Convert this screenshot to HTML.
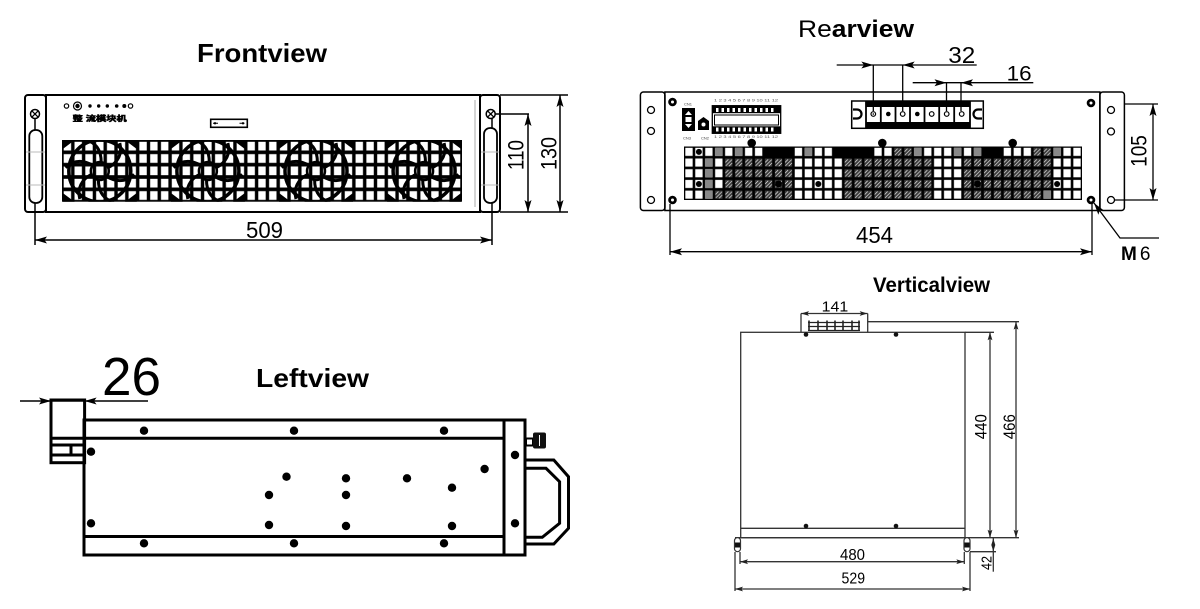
<!DOCTYPE html>
<html><head><meta charset="utf-8"><title>drawing</title>
<style>
html,body{margin:0;padding:0;background:#fff;width:1200px;height:609px;overflow:hidden}
svg{display:block}
</style></head><body>
<svg xmlns="http://www.w3.org/2000/svg" xmlns:xlink="http://www.w3.org/1999/xlink" width="1200" height="609" viewBox="0 0 1200 609" font-family="'Liberation Sans','Noto Sans CJK SC',sans-serif">
<defs>
 <marker id="a" viewBox="0 0 12 8" refX="12" refY="4" markerWidth="12" markerHeight="8" markerUnits="userSpaceOnUse" orient="auto-start-reverse"><path d="M0,0.5 L12,4 L0,7.5 L2.5,4 z" fill="#000"/></marker>
 <marker id="s" viewBox="0 0 8 6" refX="8" refY="3" markerWidth="8" markerHeight="6" markerUnits="userSpaceOnUse" orient="auto-start-reverse"><path d="M0,0.6 L8,3 L0,5.4 L1.6,3 z" fill="#222"/></marker>
 <pattern id="fg" x="62" y="140" width="10.81" height="12.34" patternUnits="userSpaceOnUse"><rect x="1.7" y="1.8" width="7.4" height="8.7" fill="#fff"/></pattern>
 <pattern id="rg" x="684" y="146.5" width="9.95" height="10.7" patternUnits="userSpaceOnUse"><rect x="1.3" y="1.3" width="7.35" height="8.1" fill="#fff"/></pattern>
 <pattern id="rgd" x="684" y="146.5" width="9.95" height="10.7" patternUnits="userSpaceOnUse"><rect width="9.95" height="10.7" fill="#000"/><rect x="1.3" y="1.3" width="7.35" height="8.1" fill="#3a3a3a"/><path d="M2,8.6 L8.2,2.4 M1.6,5.2 L4.6,2.2 M5.2,9 L8.4,5.8" stroke="#fff" stroke-width="0.6"/></pattern>
 <clipPath id="fc"><rect x="62" y="140" width="400" height="61.7"/></clipPath>
 <g id="fan">
  <circle r="31" fill="none" stroke="#000" stroke-width="3.5"/>
  <circle r="9" fill="none" stroke="#000" stroke-width="2.5"/>
  <g fill="none" stroke="#000" stroke-width="3">
   <path d="M8,-3 Q24,-12 20,-28"/>
   <path d="M8,-3 Q24,-12 20,-28" transform="rotate(60)"/>
   <path d="M8,-3 Q24,-12 20,-28" transform="rotate(120)"/>
   <path d="M8,-3 Q24,-12 20,-28" transform="rotate(180)"/>
   <path d="M8,-3 Q24,-12 20,-28" transform="rotate(240)"/>
   <path d="M8,-3 Q24,-12 20,-28" transform="rotate(300)"/>
  </g>
  <path d="M-37,-31 h12 l-12,9z M37,-31 h-12 l12,9z M-37,31 h12 l-12,-9z M37,31 h-12 l12,-9z" fill="#000"/>
 </g>
</defs>
<rect width="1200" height="609" fill="#fff"/>

<!-- ================= FRONT VIEW ================= -->
<text x="197" y="62" font-size="26" font-weight="bold" textLength="130" lengthAdjust="spacingAndGlyphs">Frontview</text>
<g fill="none" stroke="#000" stroke-width="2">
 <rect x="25" y="95" width="21" height="117" rx="3"/>
 <rect x="46" y="95" width="434" height="117"/>
 <rect x="480" y="95" width="20" height="117" rx="3"/>
</g>
<line x1="475" y1="100" x2="475" y2="207" stroke="#aaa" stroke-width="1"/>
<g stroke="#000" stroke-width="1.5" fill="none">
 <line x1="35" y1="118" x2="35" y2="245"/>
 <line x1="492" y1="118" x2="492" y2="245"/>
</g>
<g fill="#fff" stroke="#000" stroke-width="1.8">
 <rect x="29.3" y="130" width="13" height="73" rx="6"/>
 <rect x="484" y="128" width="13" height="75" rx="6"/>
</g>
<g stroke="#bbb" stroke-width="1">
 <line x1="26" y1="152" x2="45" y2="152"/><line x1="26" y1="185" x2="45" y2="185"/>
 <line x1="481" y1="152" x2="499" y2="152"/><line x1="481" y1="185" x2="499" y2="185"/>
</g>
<g fill="#fff" stroke="#000" stroke-width="1.5"><circle cx="35" cy="114" r="4.5"/><circle cx="490.7" cy="114" r="4.5"/></g>
<path d="M31.8,110.8 L38.2,117.2 M38.2,110.8 L31.8,117.2 M487.5,110.8 L493.9,117.2 M493.9,110.8 L487.5,117.2" stroke="#000" stroke-width="1.3"/>

<!-- LEDs -->
<g stroke="#000" stroke-width="1.2" fill="none">
 <circle cx="66.5" cy="106" r="2.2"/>
 <circle cx="77.5" cy="106" r="4"/>
 <circle cx="130.5" cy="106" r="2.2"/>
</g>
<g fill="#000">
 <circle cx="77.5" cy="106" r="2.2"/>
 <circle cx="90" cy="106" r="1.7"/>
 <circle cx="98.7" cy="106" r="1.7"/>
 <circle cx="107.3" cy="106" r="1.7"/>
 <circle cx="116.7" cy="106" r="1.8"/>
 <circle cx="124.3" cy="106" r="2"/>
</g>
<text x="72.7" y="121" font-size="7.5" font-weight="bold" textLength="54" lengthAdjust="spacingAndGlyphs" stroke="#000" stroke-width="0.5" font-family="'Liberation Sans','Noto Sans CJK SC',sans-serif">整 流模块机</text>
<rect x="210.7" y="119.3" width="36.6" height="8" fill="#fff" stroke="#000" stroke-width="1.6"/>
<path d="M213,123.3 h5 M244.5,123.3 h-5" stroke="#000" stroke-width="1"/>
<circle cx="215" cy="123.3" r="1.2"/><circle cx="243" cy="123.3" r="1.2"/>

<!-- grille -->
<rect x="62" y="140" width="400" height="61.7" fill="#000"/>
<rect x="62" y="140" width="400" height="61.7" fill="url(#fg)"/>
<g clip-path="url(#fc)">
 <use href="#fan" xlink:href="#fan" transform="translate(99.8,171)"/>
 <use href="#fan" xlink:href="#fan" transform="translate(207.9,171)"/>
 <use href="#fan" xlink:href="#fan" transform="translate(316,171)"/>
 <use href="#fan" xlink:href="#fan" transform="translate(424.1,171)"/>
</g>

<!-- front dims -->
<g stroke="#000" stroke-width="1.5" fill="none">
 <line x1="35" y1="240" x2="492" y2="240" marker-start="url(#a)" marker-end="url(#a)"/>
 <line x1="495" y1="114" x2="529" y2="114"/>
 <line x1="528" y1="114" x2="528" y2="212" marker-start="url(#a)" marker-end="url(#a)"/>
 <line x1="500" y1="95" x2="568" y2="95"/>
 <line x1="500" y1="212" x2="568" y2="212"/>
 <line x1="560" y1="95" x2="560" y2="212" marker-start="url(#a)" marker-end="url(#a)"/>
</g>
<text x="264.5" y="238" font-size="23" text-anchor="middle" textLength="37" lengthAdjust="spacingAndGlyphs">509</text>
<text transform="translate(523.3,155) rotate(-90)" font-size="22" text-anchor="middle" textLength="30" lengthAdjust="spacingAndGlyphs">110</text>
<text transform="translate(556.7,153.5) rotate(-90)" font-size="22" text-anchor="middle" textLength="33" lengthAdjust="spacingAndGlyphs">130</text>

<!-- ================= REAR VIEW ================= -->
<text x="798" y="37" font-size="24" textLength="116" lengthAdjust="spacingAndGlyphs"><tspan>Re</tspan><tspan font-weight="bold">arview</tspan></text>
<g fill="none" stroke="#000" stroke-width="1.5">
 <rect x="640.4" y="92" width="24.5" height="118.5" rx="3"/>
 <rect x="664.9" y="92" width="435" height="118.5"/>
 <rect x="1099.9" y="92" width="24.5" height="118.5" rx="3"/>
</g>
<g fill="#fff" stroke="#000" stroke-width="1.3">
 <circle cx="651" cy="110" r="3.5"/><circle cx="651" cy="131" r="3.5"/><circle cx="651" cy="200" r="3.5"/>
 <circle cx="1111" cy="110" r="3.5"/><circle cx="1111" cy="131.5" r="3.5"/><circle cx="1111" cy="200" r="3.5"/>
</g>
<g fill="#000">
 <circle cx="672.5" cy="102" r="4.3"/><circle cx="1091" cy="103" r="4.3"/>
 <circle cx="672.5" cy="200" r="4.3"/><circle cx="1091" cy="200" r="4.3"/>
</g>
<g fill="#fff">
 <circle cx="672.5" cy="102" r="1.5"/><circle cx="1091" cy="103" r="1.5"/>
 <circle cx="672.5" cy="200" r="1.5"/><circle cx="1091" cy="200" r="1.5"/>
</g>

<!-- left components -->
<text x="684" y="105.5" font-size="4" fill="#444">CN1</text>
<rect x="682" y="108" width="13" height="23" fill="#000"/>
<path d="M685,115 l3.5,-4 l3.5,4z M685,124 l3.5,4 l3.5,-4z" fill="#fff"/>
<rect x="685.5" y="117" width="6" height="5" fill="#fff"/>
<path d="M698,121 l5.5,-4 l5.5,4 v9 h-11z" fill="#000"/>
<circle cx="703.5" cy="124.5" r="2" fill="#fff"/>
<text x="683" y="139.5" font-size="4" fill="#444">CN3</text>
<text x="701" y="139.5" font-size="4" fill="#444">CN2</text>
<text x="714" y="101.5" font-size="3.6" fill="#555" textLength="64" lengthAdjust="spacingAndGlyphs">1 2 3 4 5 6 7 8 9 10 11 12</text>
<rect x="712.3" y="105.7" width="68.4" height="27.6" fill="#fff" stroke="#000" stroke-width="1.3"/>
<rect x="712.3" y="105.7" width="68.4" height="7.5" fill="#000"/>
<rect x="712.3" y="126.3" width="68.4" height="7" fill="#000"/>
<g fill="#fff">
 <rect x="716" y="108" width="2.5" height="4"/><rect x="721.5" y="108" width="2.5" height="4"/><rect x="727" y="108" width="2.5" height="4"/><rect x="732.5" y="108" width="2.5" height="4"/><rect x="738" y="108" width="2.5" height="4"/><rect x="743.5" y="108" width="2.5" height="4"/><rect x="749" y="108" width="2.5" height="4"/><rect x="754.5" y="108" width="2.5" height="4"/><rect x="760" y="108" width="2.5" height="4"/><rect x="765.5" y="108" width="2.5" height="4"/><rect x="771" y="108" width="2.5" height="4"/>
 <rect x="716" y="127.5" width="2.5" height="4"/><rect x="721.5" y="127.5" width="2.5" height="4"/><rect x="727" y="127.5" width="2.5" height="4"/><rect x="732.5" y="127.5" width="2.5" height="4"/><rect x="738" y="127.5" width="2.5" height="4"/><rect x="743.5" y="127.5" width="2.5" height="4"/><rect x="749" y="127.5" width="2.5" height="4"/><rect x="754.5" y="127.5" width="2.5" height="4"/><rect x="760" y="127.5" width="2.5" height="4"/><rect x="765.5" y="127.5" width="2.5" height="4"/><rect x="771" y="127.5" width="2.5" height="4"/>
</g>
<rect x="714.5" y="115" width="64" height="10" fill="none" stroke="#000" stroke-width="1"/>
<text x="714" y="138" font-size="3.6" fill="#555" textLength="64" lengthAdjust="spacingAndGlyphs">1 2 3 4 5 6 7 8 9 10 11 12</text>

<!-- big dots -->
<g fill="#000"><circle cx="751.7" cy="143" r="4.3"/><circle cx="882.3" cy="143" r="4.3"/><circle cx="1012.7" cy="143" r="4.3"/></g>

<!-- rear grid -->
<rect x="684" y="146.5" width="398" height="53.5" fill="#000"/>
<rect x="684" y="146.5" width="398" height="53.5" fill="url(#rg)"/>
<g fill="#888">
 <rect x="715.15" y="147.8" width="7.35" height="8.1"/>
 <rect x="735.05" y="147.8" width="7.35" height="8.1"/>
 <rect x="804.7" y="147.8" width="7.35" height="8.1"/>
 <rect x="914.15" y="147.8" width="7.35" height="8.1"/>
 <rect x="953.95" y="147.8" width="7.35" height="8.1"/>
 <rect x="973.85" y="147.8" width="7.35" height="8.1"/>
 <rect x="1053.45" y="147.8" width="7.35" height="8.1"/>
 <rect x="705.2" y="158.5" width="7.35" height="8.1"/>
 <rect x="705.2" y="169.2" width="7.35" height="8.1"/>
 <rect x="705.2" y="179.9" width="7.35" height="8.1"/>
 <rect x="705.2" y="190.6" width="7.35" height="8.1"/>
 <rect x="1043.5" y="190.6" width="7.35" height="8.1"/>
</g>
<g fill="#000">
 <rect x="763.6" y="146.5" width="29.85" height="10.7"/>
 <rect x="833.25" y="146.5" width="39.8" height="10.7"/>
 <rect x="982.5" y="146.5" width="19.9" height="10.7"/>
</g>
<g fill="url(#rgd)">
 <rect x="893.55" y="146.5" width="19.9" height="10.7"/>
 <rect x="1032.25" y="146.5" width="19.9" height="10.7"/>
 <rect x="723.8" y="157.2" width="69.65" height="32.1"/>
 <rect x="843.2" y="157.2" width="89.55" height="42.8"/>
 <rect x="962.6" y="157.2" width="89.55" height="32.1"/>
 <rect x="713.85" y="189.3" width="79.6" height="10.7"/>
 <rect x="962.6" y="189.3" width="79.6" height="10.7"/>
</g>
<g fill="#000">
 <circle cx="698.9" cy="151.85" r="3"/>
 <circle cx="698.9" cy="183.95" r="3"/>
 <circle cx="818.3" cy="183.95" r="3"/>
 <circle cx="1057.1" cy="183.95" r="3"/>
 <circle cx="778.5" cy="183.95" r="3.5"/>
 <circle cx="977.5" cy="183.95" r="3.5"/>
</g>

<!-- terminal block -->
<rect x="851.7" y="101" width="131.6" height="27.3" fill="#fff" stroke="#000" stroke-width="1.5"/>
<rect x="866" y="101" width="104" height="6" fill="#000"/>
<rect x="866" y="122" width="104" height="6.3" fill="#000"/>
<g stroke="#000" stroke-width="1.8">
 <line x1="866" y1="101" x2="866" y2="128"/><line x1="880.8" y1="101" x2="880.8" y2="128"/><line x1="895.5" y1="101" x2="895.5" y2="128"/><line x1="910" y1="101" x2="910" y2="128"/><line x1="924.5" y1="101" x2="924.5" y2="128"/><line x1="939.2" y1="101" x2="939.2" y2="128"/><line x1="954.2" y1="101" x2="954.2" y2="128"/><line x1="970" y1="101" x2="970" y2="128"/>
</g>
<g fill="none" stroke="#000" stroke-width="1.2">
 <circle cx="873.3" cy="114" r="2.3"/><circle cx="902.7" cy="114" r="2.3"/><circle cx="931.7" cy="114" r="2.3"/><circle cx="946.7" cy="114" r="2.3"/><circle cx="961.7" cy="114" r="2.3"/>
</g>
<g fill="#000"><circle cx="888.3" cy="114" r="2.3"/><circle cx="917.3" cy="114" r="2.3"/><circle cx="873.3" cy="114" r="0.8"/></g>
<path d="M853,109.5 h4 a4.5,4.5 0 0 1 0,9 h-4 M982,109.5 h-4 a4.5,4.5 0 0 0 0,9 h4" fill="none" stroke="#000" stroke-width="2.2"/>

<!-- rear dims -->
<g stroke="#000" stroke-width="1.3" fill="none">
 <line x1="836.7" y1="65" x2="976.7" y2="65"/>
 <line x1="873.3" y1="65" x2="873.3" y2="111"/>
 <line x1="902.7" y1="65" x2="902.7" y2="111"/>
 <line x1="912.7" y1="82.7" x2="1033.3" y2="82.7"/>
 <line x1="946.5" y1="82.7" x2="946.5" y2="111"/>
 <line x1="961" y1="82.7" x2="961" y2="111"/>
 <line x1="670" y1="204" x2="670" y2="255"/>
 <line x1="1092" y1="204" x2="1092" y2="255"/>
 <line x1="670" y1="251.7" x2="1092" y2="251.7" marker-start="url(#a)" marker-end="url(#a)"/>
 <line x1="1124" y1="104" x2="1158" y2="104"/>
 <line x1="1114" y1="200" x2="1158" y2="200"/>
 <line x1="1153" y1="104" x2="1153" y2="200" marker-start="url(#a)" marker-end="url(#a)"/>
 <polyline points="1094,203 1120,238 1159,238" marker-start="url(#a)"/>
</g>
<g fill="#000">
 <polygon points="873.3,65 861.3,61.5 864,65 861.3,68.5"/>
 <polygon points="902.7,65 914.7,61.5 912,65 914.7,68.5"/>
 <polygon points="946.5,82.7 934.5,79.2 937,82.7 934.5,86.2"/>
 <polygon points="961,82.7 973,79.2 970.5,82.7 973,86.2"/>
</g>
<text x="948.3" y="63" font-size="23" textLength="27" lengthAdjust="spacingAndGlyphs">32</text>
<text x="1006.7" y="80.5" font-size="21" textLength="25" lengthAdjust="spacingAndGlyphs">16</text>
<text x="874.5" y="243" font-size="23" text-anchor="middle" textLength="37" lengthAdjust="spacingAndGlyphs">454</text>
<text transform="translate(1146.7,151) rotate(-90)" font-size="22" text-anchor="middle" textLength="31.7" lengthAdjust="spacingAndGlyphs">105</text>
<text x="1121" y="260" font-size="19"><tspan font-weight="bold">M</tspan><tspan dx="3">6</tspan></text>

<!-- ================= LEFT VIEW ================= -->
<text x="102" y="395" font-size="54" textLength="59" lengthAdjust="spacingAndGlyphs">26</text>
<text x="256" y="387" font-size="26" font-weight="bold" textLength="113" lengthAdjust="spacingAndGlyphs">Leftview</text>
<line x1="20" y1="401" x2="148" y2="401" stroke="#000" stroke-width="1.5"/>
<g fill="#000">
 <polygon points="51,401 39,397.5 41.5,401 39,404.5"/>
 <polygon points="84.6,401 96.6,397.5 94,401 96.6,404.5"/>
</g>
<g fill="none" stroke="#000" stroke-width="3">
 <rect x="51" y="400" width="33.6" height="62.7"/>
 <line x1="51" y1="438.3" x2="84" y2="438.3"/>
 <line x1="51" y1="445" x2="84" y2="445"/>
 <line x1="51" y1="455" x2="84" y2="455"/>
 <line x1="71" y1="445" x2="71" y2="455"/>
 <rect x="84" y="420" width="441" height="135"/>
 <line x1="84" y1="438.3" x2="504" y2="438.3"/>
 <line x1="84" y1="536.5" x2="504" y2="536.5"/>
 <line x1="504" y1="420" x2="504" y2="555"/>
 <path d="M525,460 L553.8,460 L568.5,476.7 L568.5,528.3 L553.8,544 L525,544"/>
 <path d="M525,468.3 L546,468.3 L559.6,481.7 L559.6,523.3 L542.3,537.3 L525,537.3"/>
 <rect x="526" y="438.5" width="7" height="7" stroke-width="2"/>
</g>
<rect x="533" y="432.5" width="13" height="16" rx="2" fill="#111"/>
<line x1="539.5" y1="435" x2="539.5" y2="446" stroke="#fff" stroke-width="1"/>
<g fill="#000">
 <circle cx="144" cy="430.7" r="4.2"/><circle cx="294" cy="430.7" r="4.2"/><circle cx="444" cy="430.7" r="4.2"/>
 <circle cx="91" cy="451.7" r="4.2"/><circle cx="515" cy="455" r="4.2"/><circle cx="484.6" cy="469" r="4.2"/>
 <circle cx="286.5" cy="476.7" r="4.2"/><circle cx="346" cy="478.3" r="4.2"/><circle cx="407" cy="478.3" r="4.2"/>
 <circle cx="452" cy="487.7" r="4.2"/><circle cx="269" cy="495" r="4.2"/><circle cx="346" cy="495" r="4.2"/>
 <circle cx="91" cy="523.3" r="4.2"/><circle cx="269" cy="525" r="4.2"/><circle cx="346" cy="526" r="4.2"/>
 <circle cx="452" cy="526" r="4.2"/><circle cx="515" cy="523.3" r="4.2"/>
 <circle cx="144" cy="543.3" r="4.2"/><circle cx="294" cy="543.3" r="4.2"/><circle cx="444" cy="543.3" r="4.2"/>
</g>

<!-- ================= VERTICAL VIEW ================= -->
<text x="873" y="292" font-size="21" font-weight="bold" textLength="117" lengthAdjust="spacingAndGlyphs">Verticalview</text>
<g fill="none" stroke="#333" stroke-width="1.3">
 <rect x="740.7" y="332.3" width="224.3" height="205.4"/>
 <line x1="740.7" y1="528.3" x2="965" y2="528.3"/>
 <line x1="965" y1="332.3" x2="994" y2="332.3"/>
 <line x1="735" y1="537.7" x2="1019" y2="537.7"/>
 <line x1="801" y1="313.5" x2="801" y2="332.3"/>
 <line x1="867.7" y1="313.5" x2="867.7" y2="332.3"/>
 <line x1="801" y1="313.5" x2="867.7" y2="313.5" marker-start="url(#s)" marker-end="url(#s)"/>
 <line x1="867.7" y1="321.7" x2="1019" y2="321.7"/>
 <line x1="990" y1="332.3" x2="990" y2="537.7" marker-start="url(#s)" marker-end="url(#s)"/>
 <line x1="1016" y1="321.7" x2="1016" y2="537.7" marker-start="url(#s)" marker-end="url(#s)"/>
 <line x1="970" y1="551.7" x2="996" y2="551.7"/>
 <line x1="993.3" y1="537.7" x2="993.3" y2="571.7"/>
 <line x1="740" y1="552" x2="740" y2="564"/>
 <line x1="964.3" y1="552" x2="964.3" y2="564"/>
 <line x1="740" y1="561.7" x2="964.3" y2="561.7" marker-start="url(#s)" marker-end="url(#s)"/>
 <line x1="735" y1="552" x2="735" y2="591"/>
 <line x1="970" y1="552" x2="970" y2="591"/>
 <line x1="735" y1="589" x2="970" y2="589" marker-start="url(#s)" marker-end="url(#s)"/>
</g>
<g fill="#222">
 <polygon points="993.3,538.5 991.3,545 995.3,545"/>
 <polygon points="993.3,551.2 991.3,545 995.3,545"/>
</g>
<g stroke="#222" stroke-width="1.2">
 <line x1="808" y1="322.5" x2="860" y2="322.5"/>
 <line x1="808" y1="326.5" x2="860" y2="326.5"/>
 <line x1="808" y1="330.5" x2="860" y2="330.5"/>
</g>
<g stroke="#222" stroke-width="1.6">
 <line x1="809" y1="320.5" x2="809" y2="331"/><line x1="818" y1="320.5" x2="818" y2="331"/><line x1="827" y1="320.5" x2="827" y2="331"/><line x1="835" y1="320.5" x2="835" y2="331"/><line x1="843" y1="320.5" x2="843" y2="331"/><line x1="852" y1="320.5" x2="852" y2="331"/><line x1="859" y1="320.5" x2="859" y2="331"/>
</g>
<g fill="#111">
 <circle cx="806" cy="334.5" r="2.3"/><circle cx="896" cy="334.5" r="2.3"/>
 <circle cx="806" cy="526" r="2.3"/><circle cx="896" cy="526" r="2.3"/>
</g>
<g fill="#fff" stroke="#333" stroke-width="1.2">
 <rect x="734.5" y="537.7" width="6" height="14" rx="3"/>
 <rect x="964" y="537.7" width="6" height="14" rx="3"/>
</g>
<g fill="#111"><rect x="735" y="542.5" width="5" height="5"/><rect x="964.5" y="542.5" width="5" height="5"/></g>
<text x="835" y="311.7" font-size="15" text-anchor="middle" textLength="26.6" lengthAdjust="spacingAndGlyphs">141</text>
<text transform="translate(986.7,426.7) rotate(-90)" font-size="17" text-anchor="middle" textLength="25" lengthAdjust="spacingAndGlyphs">440</text>
<text transform="translate(1015,426.7) rotate(-90)" font-size="17" text-anchor="middle" textLength="25" lengthAdjust="spacingAndGlyphs">466</text>
<text x="852.5" y="560" font-size="16" text-anchor="middle" textLength="25" lengthAdjust="spacingAndGlyphs">480</text>
<text x="853.3" y="583.3" font-size="16" text-anchor="middle" textLength="23.5" lengthAdjust="spacingAndGlyphs">529</text>
<text transform="translate(991.7,563) rotate(-90)" font-size="15" text-anchor="middle" textLength="14" lengthAdjust="spacingAndGlyphs">42</text>
</svg>
</body></html>
